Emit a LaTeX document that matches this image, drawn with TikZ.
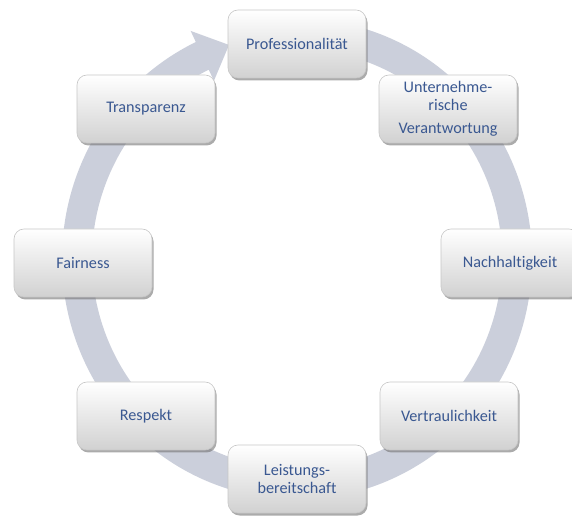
\documentclass[tikz,border=0pt]{standalone}
\usepackage{fontspec}
\setmainfont{Carlito}[Ligatures={NoCommon}]
\usetikzlibrary{shadows}
\definecolor{ringgray}{RGB}{203,207,219}
\definecolor{labelblue}{RGB}{58,88,145}
\tikzset{
  stage/.style={rectangle, rounded corners=10pt, draw=black!22, line width=0.6pt,
    top color=white, bottom color=black!18,
    minimum width=138pt, minimum height=68pt, inner sep=0pt,
    align=center, text=labelblue, font=\fontsize{16.2}{17.5}\selectfont,
    drop shadow={shadow xshift=1.5pt, shadow yshift=-2.5pt, fill=black!55, opacity=0.6}}
}
\begin{document}
\begin{tikzpicture}[x=1pt, y=1pt]
  \useasboundingbox (0,0) rectangle (572,516);
  \fill[white] (0,0) rectangle (572,516);

  % the cycle arrow
  \begin{scope}[shift={(297,257)}, yscale=1.023]
    \fill[ringgray] (80:205) -- (80:235)
      arc[start angle=80, end angle=-244.5, radius=235]
      -- (115.5:247) -- (108:220) -- (115.5:193) -- (115.5:205)
      arc[start angle=-244.5, end angle=80, radius=205] -- cycle;
  \end{scope}

  \node[stage] (prof) at (297,472) {Professionalität};
  \node[stage] (untern) at (448,407) {Unternehme-\\rische\\[6pt]Verantwortung};
  \node[stage] (nach) at (510,253) {Nachhaltigkeit};
  \node[stage] (vertr) at (449,100) {Vertraulichkeit};
  \node[stage] (leist) at (297,37) {Leistungs-\\bereitschaft};
  \node[stage] (resp) at (146,100) {Respekt};
  \node[stage] (fair) at (83,253) {Fairness};
  \node[stage] (transp) at (146,407) {Transparenz};
\end{tikzpicture}
\end{document}
